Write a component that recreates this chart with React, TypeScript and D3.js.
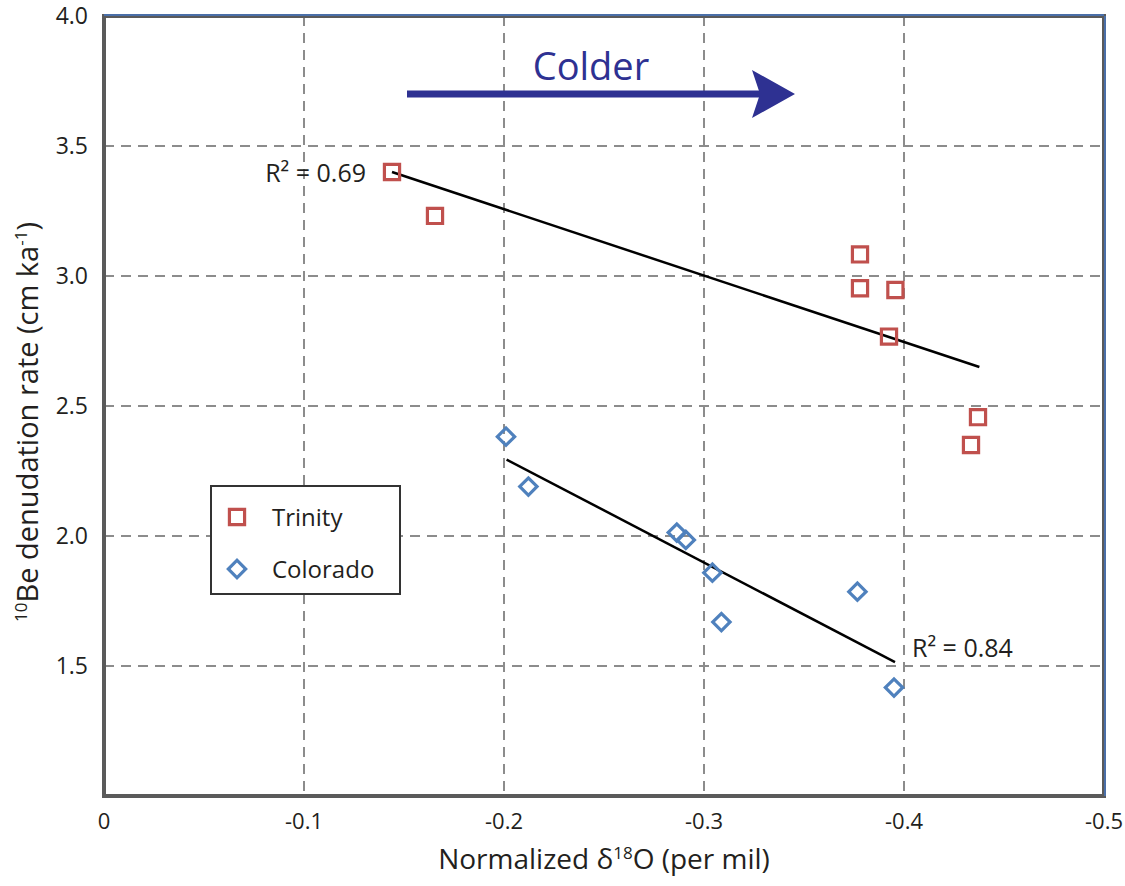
import { useEffect, useRef } from 'react'
import * as d3 from 'd3'

// Trinity basin (red squares)
const trinityX = [-0.144, -0.1655, -0.378, -0.378, -0.3957, -0.3925, -0.437, -0.4335]
const trinityY = [3.40, 3.231, 3.083, 2.953, 2.946, 2.767, 2.457, 2.35]

// Colorado basin (blue diamonds)
const coloradoX = [-0.201, -0.2122, -0.2864, -0.2909, -0.3042, -0.3087, -0.3767, -0.395]
const coloradoY = [2.382, 2.19, 2.013, 1.985, 1.859, 1.669, 1.786, 1.417]

// regression lines, as drawn
const trinityFit = [[-0.144, 3.40], [-0.4377, 2.65]]
const coloradoFit = [[-0.2013, 2.294], [-0.3955, 1.515]]

const xTicks = [0, -0.1, -0.2, -0.3, -0.4, -0.5]
const yTicks = [1.5, 2.0, 2.5, 3.0, 3.5, 4.0]

const RED = '#c0504d'
const BLUE = '#4f81bd'
const NAVY = '#2e3192'
const INK = '#231f20'
const FONT = '"Open Sans", "Noto Sans", sans-serif'

export default function App() {
  const svgRef = useRef<SVGSVGElement>(null)

  useEffect(() => {
    const width = 1125, height = 886
    const svg = d3.select(svgRef.current)
    svg.selectAll('*').remove()
    svg.attr('width', width).attr('height', height).style('background', 'white')

    const x = d3.scaleLinear().domain([0, -0.5]).range([104, 1104])
    const y = d3.scaleLinear().domain([1.0, 4.0]).range([796, 16])

    // grid
    svg.append('g').selectAll('line').data(xTicks.slice(1, -1)).enter().append('line')
      .attr('x1', d => x(d)).attr('x2', d => x(d))
      .attr('y1', y(4)).attr('y2', y(1))
      .attr('stroke', '#8c8c8c').attr('stroke-width', 2)
      .attr('stroke-dasharray', '10 7')
    svg.append('g').selectAll('line').data(yTicks.slice(0, -1)).enter().append('line')
      .attr('x1', x(0)).attr('x2', x(-0.5))
      .attr('y1', d => y(d)).attr('y2', d => y(d))
      .attr('stroke', '#8c8c8c').attr('stroke-width', 2)
      .attr('stroke-dasharray', '10 7')

    // frame
    svg.append('rect')
      .attr('x', x(0)).attr('y', y(4))
      .attr('width', x(-0.5) - x(0)).attr('height', y(1) - y(4))
      .attr('fill', 'none').attr('stroke', '#5a5a5a').attr('stroke-width', 4)
    svg.append('line')
      .attr('x1', x(0)).attr('x2', x(-0.5)).attr('y1', y(4) - 1).attr('y2', y(4) - 1)
      .attr('stroke', '#4a6fa8').attr('stroke-width', 2)
    svg.append('line')
      .attr('x1', x(-0.5) + 1).attr('x2', x(-0.5) + 1).attr('y1', y(4)).attr('y2', y(1))
      .attr('stroke', '#4a6fa8').attr('stroke-width', 2)

    // tick labels
    svg.append('g').selectAll('text').data(yTicks).enter().append('text')
      .attr('x', 88).attr('y', d => y(d) + 8)
      .attr('text-anchor', 'end')
      .attr('font-family', FONT).attr('font-size', 23).attr('fill', INK)
      .text(d => d.toFixed(1))
    svg.append('g').selectAll('text').data(xTicks).enter().append('text')
      .attr('x', d => x(d)).attr('y', 829)
      .attr('text-anchor', 'middle')
      .attr('font-family', FONT).attr('font-size', 22).attr('fill', INK)
      .text(d => d === 0 ? '0' : String(d))

    // axis titles
    const xt = svg.append('text')
      .attr('x', 604).attr('y', 869).attr('text-anchor', 'middle')
      .attr('font-family', FONT).attr('font-size', 28).attr('fill', INK)
    xt.append('tspan').text('Normalized δ')
    xt.append('tspan').attr('font-size', 17).attr('dy', -10).text('18')
    xt.append('tspan').attr('dy', 10).text('O (per mil)')

    const yt = svg.append('text')
      .attr('transform', 'translate(38, 422) rotate(-90)').attr('text-anchor', 'middle')
      .attr('font-family', FONT).attr('font-size', 29).attr('fill', INK)
    yt.append('tspan').attr('font-size', 17).attr('dy', -11).text('10')
    yt.append('tspan').attr('dy', 11).text('Be denudation rate (cm ka')
    yt.append('tspan').attr('font-size', 17).attr('dy', -11).text('-1')
    yt.append('tspan').attr('dy', 11).text(')')

    // regression lines
    const line = d3.line<number[]>().x(d => x(d[0])).y(d => y(d[1]))
    ;[trinityFit, coloradoFit].forEach(fit => {
      svg.append('path').attr('d', line(fit)).attr('fill', 'none')
        .attr('stroke', '#000').attr('stroke-width', 2.5)
    })

    // markers
    const square = d3.symbol().type(d3.symbolSquare).size(230)
    const diamond = d3.symbol().type(d3.symbolSquare).size(150)
    svg.append('g').selectAll('path').data(trinityX.map((v, i) => [v, trinityY[i]])).enter()
      .append('path').attr('d', square())
      .attr('transform', d => `translate(${x(d[0])},${y(d[1])})`)
      .attr('fill', 'none').attr('stroke', RED).attr('stroke-width', 3.2)
    svg.append('g').selectAll('path').data(coloradoX.map((v, i) => [v, coloradoY[i]])).enter()
      .append('path').attr('d', diamond())
      .attr('transform', d => `translate(${x(d[0])},${y(d[1])}) rotate(45)`)
      .attr('fill', 'none').attr('stroke', BLUE).attr('stroke-width', 3.2)

    // R² annotations
    svg.append('text').attr('x', x(-0.144) - 26).attr('y', 182).attr('text-anchor', 'end')
      .attr('font-family', FONT).attr('font-size', 25).attr('fill', INK)
      .text('R² = 0.69')
    svg.append('text').attr('x', 912).attr('y', 657)
      .attr('font-family', FONT).attr('font-size', 25).attr('fill', INK)
      .text('R² = 0.84')

    // "Colder" arrow
    svg.append('line')
      .attr('x1', x(-0.1515)).attr('x2', x(-0.33)).attr('y1', y(3.7)).attr('y2', y(3.7))
      .attr('stroke', NAVY).attr('stroke-width', 7)
    const tipX = x(-0.3455), ay = y(3.7)
    svg.append('path')
      .attr('d', `M${tipX},${ay} L${tipX - 43},${ay - 24} L${tipX - 35},${ay} L${tipX - 43},${ay + 24} Z`)
      .attr('fill', NAVY)
    svg.append('text').attr('x', 591).attr('y', 80).attr('text-anchor', 'middle')
      .attr('font-family', FONT).attr('font-size', 38).attr('fill', NAVY)
      .text('Colder')

    // legend
    const lg = svg.append('g')
    lg.append('rect').attr('x', 211).attr('y', 486).attr('width', 189).attr('height', 108)
      .attr('fill', 'white').attr('stroke', '#333').attr('stroke-width', 2)
    lg.append('path').attr('d', square()).attr('transform', 'translate(237,517)')
      .attr('fill', 'none').attr('stroke', RED).attr('stroke-width', 3.2)
    lg.append('path').attr('d', diamond()).attr('transform', 'translate(237,569) rotate(45)')
      .attr('fill', 'none').attr('stroke', BLUE).attr('stroke-width', 3.2)
    lg.append('text').attr('x', 272).attr('y', 526)
      .attr('font-family', FONT).attr('font-size', 24).attr('fill', INK).text('Trinity')
    lg.append('text').attr('x', 272).attr('y', 578)
      .attr('font-family', FONT).attr('font-size', 24).attr('fill', INK).text('Colorado')
  }, [])

  return (
    <div style={{ position: 'absolute', left: 0, top: 0 }}>
      <svg ref={svgRef} style={{ display: 'block' }} />
    </div>
  )
}
